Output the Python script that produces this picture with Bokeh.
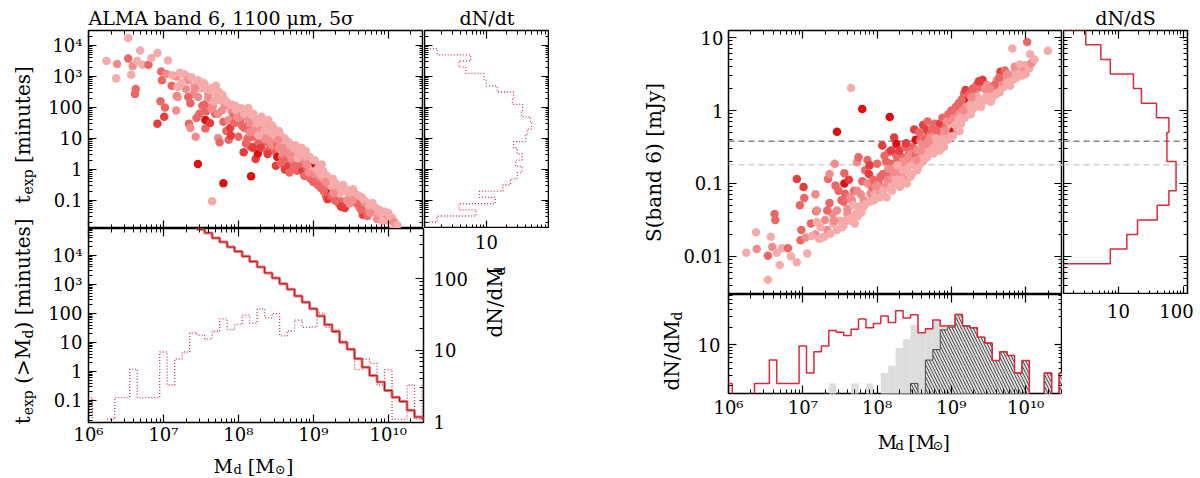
import math
from bokeh.plotting import figure
from bokeh.models import (ColumnDataSource, Range1d, LogAxis, LogScale, FixedTicker,
                          CustomJSTickFormatter, Span, Label, Spacer)
from bokeh.layouts import row, column
from bokeh.embed import file_html
from bokeh.resources import INLINE

# ---------------- data ----------------
# simulated galaxies: log dust mass [Msun], log S(band 6) [mJy], log t_exp [min], colour shade
log_md = [
    6.24, 6.37, 6.38, 6.53, 6.53, 6.57, 6.59, 6.62, 6.63, 6.65, 6.69, 6.72, 6.80, 6.84, 6.92, 6.92, 6.96, 6.97, 6.98,
    7.01, 7.02, 7.04, 7.06, 7.11, 7.17, 7.18, 7.17, 7.19, 7.22, 7.26, 7.29, 7.33, 7.34, 7.36, 7.36, 7.40, 7.41, 7.43,
    7.44, 7.46, 7.46, 7.48, 7.50, 7.37, 7.42, 7.33, 7.19, 7.12, 7.46, 7.30, 7.24,
    7.52, 7.53, 7.56, 7.56, 7.57, 7.60, 7.62, 7.65, 7.66, 7.69, 7.71, 7.73, 7.75, 7.80, 7.80, 7.82, 7.84, 7.87, 7.89,
    7.91, 7.93, 7.96, 7.55, 7.64, 7.74, 7.82, 7.64, 7.73, 7.55, 7.60, 7.98, 7.91, 7.87, 7.78, 7.68, 7.85, 7.95, 7.58,
    7.70, 7.79, 7.75, 7.62, 7.90, 7.97,
    8.00, 8.02, 8.05, 8.07, 8.08, 8.11, 8.13, 8.16, 8.17, 8.18, 8.20, 8.23, 8.23, 8.26, 8.27, 8.29, 8.31, 8.34, 8.36,
    8.38, 8.40, 8.43, 8.45, 8.47, 8.04, 8.00, 8.11, 8.18, 8.22, 8.31, 8.36, 8.40, 8.45, 8.47, 8.08, 8.14, 8.20, 8.26,
    8.28, 8.33, 8.35, 8.42, 8.44, 8.12, 8.25, 8.30, 8.38, 8.48, 8.15, 8.22, 8.05, 8.35, 8.41, 8.27, 8.45, 8.50, 8.10,
    8.19, 8.39,
    8.50, 8.52, 8.52, 8.54, 8.55, 8.58, 8.58, 8.63, 8.63, 8.67, 8.67, 8.72, 8.72, 8.76, 8.78, 8.78, 8.81, 8.83, 8.85,
    8.90, 8.92, 8.90, 8.96, 8.99, 8.95, 8.54, 8.56, 8.60, 8.62, 8.65, 8.68, 8.70, 8.74, 8.77, 8.80, 8.82, 8.85, 8.88,
    8.87, 8.93, 8.97, 8.60, 8.65, 8.70, 8.75, 8.80, 8.57, 8.62, 8.68, 8.74, 8.88, 8.94, 8.98, 8.53, 8.59, 8.66, 8.71,
    8.79, 8.84, 8.91,
    9.03, 9.03, 9.08, 9.12, 9.17, 9.21, 9.21, 9.26, 9.28, 9.32, 9.35, 9.39, 9.39, 9.43, 9.46, 9.50, 9.02, 9.05, 9.08,
    9.10, 9.13, 9.15, 9.18, 9.20, 9.23, 9.25, 9.30, 9.33, 9.36, 9.40, 9.43, 9.47, 9.06, 9.10, 9.14, 9.19, 9.24, 9.29,
    9.34, 9.37, 9.42, 9.45, 9.48, 9.11, 9.16, 9.27, 9.00,
    9.53, 9.57, 9.61, 9.66, 9.70, 9.73, 9.79, 9.79, 9.86, 9.93, 9.95, 9.97, 9.82, 9.55, 9.60, 9.63, 9.68, 9.75, 9.83,
    9.88, 9.58, 9.64, 9.52, 9.72, 9.85, 9.90, 9.65, 9.76, 9.99, 9.92,
    10.02, 10.06, 10.02, 10.30, 10.05, 10.08, 10.00, 10.12,
]
log_s = [
    -1.95, -1.67, -1.90, -2.32, -1.99, -1.73, -1.87, -1.42, -1.50, -1.95, -2.12, -1.89, -1.89, -2.00, -2.08, -0.94,
    -1.30, -1.78, -1.64,
    -1.05, -1.20, -1.74, -1.96, -1.55, -1.15, -1.38, -1.70, -1.53, -1.76, -1.74, -1.73, -1.64, -0.94, -0.87, -1.27,
    -1.42, -1.55, -0.73, -1.03, -0.29, -1.37, -1.10, -1.51, -1.69, -1.51, -1.37, -1.37, -1.72, -1.64, -1.50, -1.60,
    -1.23, -1.60, -0.86, -1.00, -1.14, -1.42, -1.48, 0.31, -1.23, -1.10, -1.42, -0.71, -1.32, 0.02, -0.97, -1.23,
    -0.82, -0.68, -0.87, -1.14, -1.05, -1.23, -1.58, -1.51, -1.45, -1.32, -1.19, -1.10, -1.25, -1.35, -1.05, -1.25,
    -1.00, -1.15, -1.30, -1.28, -0.95, -1.50, -1.55, -1.40, -0.64, -0.95, -0.75, -1.15,
    -0.73, -0.98, -1.12, -0.48, -0.87, -1.05, -1.19, -0.57, -0.09, -0.73, -0.87, -1.00, -0.37, -0.46, -0.68, -0.81,
    -1.05, -0.64, -0.91, -0.78, -1.00, -0.57, -0.73, -0.87, -1.19, -1.03, -0.87, -1.07, -0.96, -0.87, -0.66, -0.80,
    -0.91, -0.64, -1.10, -0.95, -1.10, -0.95, -1.00, -0.95, -0.82, -0.85, -0.70, -0.70, -0.60, -0.55, -0.50, -0.50,
    -0.80, -0.80, -0.90, -0.70, -0.66, -0.75, -0.60, -0.75, -0.62, -0.55, -0.45,
    -0.26, -0.40, -0.60, -0.55, -0.78, -0.41, -0.73, -0.52, -0.59, -0.27, -0.64, -0.32, -0.50, -0.59, -0.18, -0.46,
    -0.41, -0.30, -0.18, -0.37, -0.23, -0.50, -0.05, -0.18, -0.40, -0.82, -0.68, -0.65, -0.70, -0.55, -0.50, -0.58,
    -0.45, -0.52, -0.50, -0.45, -0.40, -0.42, -0.30, -0.35, -0.30, -0.45, -0.38, -0.42, -0.35, -0.28, -0.30, -0.20,
    -0.15, -0.25, -0.10, -0.15, -0.25, -0.68, -0.55, -0.46, -0.38, -0.38, -0.55, -0.28,
    -0.09, -0.28, -0.05, 0.05, 0.23, 0.14, 0.05, -0.05, 0.11, 0.25, 0.18, 0.32, 0.14, 0.37, 0.14, 0.23, -0.35, -0.20,
    -0.25, -0.12, -0.18, -0.05, -0.10, -0.02, 0.00, 0.08, 0.03, 0.10, 0.08, 0.05, 0.15, 0.20, 0.05, 0.10, 0.15, 0.28,
    0.22, 0.30, 0.35, 0.40, 0.42, 0.30, 0.35, -0.28, 0.00, 0.18, 0.00,
    0.12, 0.27, 0.41, 0.53, 0.32, 0.46, 0.48, 0.34, 0.53, 0.55, 0.48, 0.53, 0.85, 0.18, 0.22, 0.30, 0.40, 0.38, 0.42,
    0.45, 0.35, 0.45, 0.30, 0.55, 0.60, 0.50, 0.25, 0.50, 0.62, 0.63,
    0.94, 0.77, 0.62, 0.82, 0.58, 0.65, 0.50, 0.70,
]
log_t = [
    3.50, 2.94, 3.40, 4.24, 3.58, 3.06, 3.34, 2.44, 2.60, 3.50, 3.84, 3.38, 3.38, 3.60, 3.76, 1.48, 2.20, 3.16, 2.88,
    1.70, 2.00, 3.08, 3.52, 2.70, 1.90, 2.36, 3.00, 2.66, 3.12, 3.08, 3.06, 2.88, 1.48, 1.34, 2.14, 2.44, 2.70, 1.06,
    1.66, 0.18, 2.34, 1.80, 2.62, 2.98, 2.62, 2.34, 2.34, 3.04, 2.88, 2.60, 2.80,
    2.06, 2.80, 1.32, 1.60, 1.88, 2.44, 2.56, -1.02, 2.06, 1.80, 2.44, 1.02, 2.24, -0.44, 1.54, 2.06, 1.24, 0.96,
    1.34, 1.88, 1.70, 2.06, 2.76, 2.62, 2.50, 2.24, 1.98, 1.80, 2.10, 2.30, 1.70, 2.10, 1.60, 1.90, 2.20, 2.16, 1.50,
    2.60, 2.70, 2.40, 0.88, 1.50, 1.10, 1.90,
    1.06, 1.56, 1.84, 0.56, 1.34, 1.70, 1.98, 0.74, -0.22, 1.06, 1.34, 1.60, 0.34, 0.52, 0.96, 1.22, 1.70, 0.88, 1.42,
    1.16, 1.60, 0.74, 1.06, 1.34, 1.98, 1.66, 1.34, 1.74, 1.52, 1.34, 0.92, 1.20, 1.42, 0.88, 1.80, 1.50, 1.80, 1.50,
    1.60, 1.50, 1.24, 1.30, 1.00, 1.00, 0.80, 0.70, 0.60, 0.60, 1.20, 1.20, 1.40, 1.00, 0.92, 1.10, 0.80, 1.10, 0.84,
    0.70, 0.50,
    0.12, 0.40, 0.80, 0.70, 1.16, 0.42, 1.06, 0.64, 0.78, 0.14, 0.88, 0.24, 0.60, 0.78, -0.04, 0.52, 0.42, 0.20,
    -0.04, 0.34, 0.06, 0.60, -0.30, -0.04, 0.40, 1.24, 0.96, 0.90, 1.00, 0.70, 0.60, 0.76, 0.50, 0.64, 0.60, 0.50,
    0.40, 0.44, 0.20, 0.30, 0.20, 0.50, 0.36, 0.44, 0.30, 0.16, 0.20, 0.00, -0.10, 0.10, -0.20, -0.10, 0.10, 0.96,
    0.70, 0.52, 0.36, 0.36, 0.70, 0.16,
    -0.22, 0.16, -0.30, -0.50, -0.86, -0.68, -0.50, -0.30, -0.62, -0.90, -0.76, -1.04, -0.68, -1.14, -0.68, -0.86,
    0.30, 0.00, 0.10, -0.16, -0.04, -0.30, -0.20, -0.36, -0.40, -0.56, -0.46, -0.60, -0.56, -0.50, -0.70, -0.80,
    -0.50, -0.60, -0.70, -0.96, -0.84, -1.00, -1.10, -1.20, -1.24, -1.00, -1.10, 0.16, -0.40, -0.76, -0.40,
    -0.64, -0.94, -1.22, -1.46, -1.04, -1.32, -1.36, -1.08, -1.46, -1.50, -1.36, -1.46, -2.10, -0.76, -0.84, -1.00,
    -1.20, -1.16, -1.24, -1.30, -1.10, -1.30, -1.00, -1.50, -1.60, -1.40, -0.90, -1.40, -1.64, -1.66,
    -2.28, -1.94, -1.64, -2.04, -1.56, -1.70, -1.40, -1.80,
]
shade = [
    0, 0, 1, 0, 2, 0, 1, 2, 2, 0, 0, 0, 2, 0, 0, 3, 2, 2, 2,
    3, 2, 1, 0, 2, 1, 2, 1, 0, 0, 0, 0, 1, 2, 1, 2, 1, 0, 1, 2, 4, 1, 2, 0, 0, 1, 2, 1, 0, 0, 1, 0,
    2, 0, 2, 4, 2, 1, 0, 0, 1, 2, 0, 1, 0, 4, 2, 1, 2, 2, 3, 1, 2, 0, 0, 0, 0, 0, 1, 1, 2, 1, 1, 0, 1, 1, 0, 0, 2,
    0, 0, 0, 2, 3, 3, 0,
    2, 2, 1, 3, 2, 1, 0, 2, 4, 2, 1, 1, 3, 4, 2, 1, 0, 2, 1, 1, 0, 2, 1, 0, 0, 1, 2, 0, 0, 1, 2, 0, 0, 1, 0, 1, 0,
    0, 0, 0, 0, 0, 0, 2, 2, 3, 2, 2, 1, 1, 2, 1, 1, 0, 1, 0, 2, 3, 3,
    3, 4, 2, 1, 0, 2, 0, 4, 1, 3, 0, 2, 1, 0, 2, 1, 1, 2, 3, 1, 2, 0, 2, 1, 0, 0, 0, 0, 0, 0, 0, 0, 0, 0, 0, 0, 0,
    0, 1, 0, 0, 1, 2, 1, 1, 2, 2, 3, 2, 2, 2, 1, 0, 1, 1, 1, 1, 0, 0, 1,
    1, 4, 1, 1, 2, 4, 1, 0, 0, 1, 0, 2, 0, 3, 0, 1, 0, 0, 0, 0, 0, 0, 0, 0, 0, 0, 0, 0, 0, 0, 0, 0, 2, 2, 2, 3, 2,
    2, 2, 3, 3, 1, 1, 0, 1, 1, 2,
    0, 0, 1, 3, 0, 1, 0, 0, 0, 0, 0, 1, 0, 0, 0, 0, 1, 0, 0, 0, 2, 2, 1, 2, 1, 0, 0, 1, 1, 0,
    2, 0, 0, 0, 0, 1, 0, 0,
]

# dN/dMd in 0.1 dex bins starting at log Md = 5.95 (whole sample / light grey / dark hatched)
md_bin_lo = 5.95
dn_dmd = [2.2, 0, 0, 1.1, 2.2, 2.2, 5.5, 2.2, 2.2, 2.2, 9.5, 3.3, 7.6, 9.5, 17.5, 16.3, 14.4, 18.5, 27.5, 19.5,
          23, 31, 24, 38, 28.5, 32.5, 16, 18.7, 26.5, 21, 21.2, 33, 21, 19.5, 13.5, 10.7, 5.4, 7.6, 6.6, 3.3,
          5.4, 1.1, 1.1, 3.3, 1.1, 3.3]
dn_light = [0, 0, 0, 0, 0, 0, 0, 0, 0, 0, 0, 0, 0, 0, 2.2, 0, 0, 2.2, 0, 2.2,
            0, 3.3, 4.4, 8.8, 12.5, 22, 16, 18.7, 26.5, 21, 21.2, 33, 21, 19.5, 13.5, 10.7, 5.4, 7.6, 6.6, 3.3,
            5.4, 1.1, 1.1, 3.3, 1.1, 3.3]
dn_dark = [0, 0, 0, 0, 0, 0, 0, 0, 0, 0, 0, 0, 0, 0, 0, 0, 0, 0, 0, 0,
           0, 0, 0, 0, 0, 2.2, 0, 5.5, 8.3, 18, 20, 33, 21, 19.5, 13.5, 10.7, 5.4, 7.6, 6.6, 3.3,
           5.4, 1.1, 1.1, 3.3, 1.1, 3.3]

# cumulative exposure time t_exp(>Md) [min], 0.1 dex bins starting at log Md = 7.35
cum_bin_lo = 7.35
t_cum = [112000, 79000, 60000, 40000, 29000, 19500, 13800, 9300, 6200, 4000, 2500, 1660, 1050, 680, 400, 245,
         145, 81, 41, 24, 10.2, 5.8, 2.75, 1.4, 0.72, 0.43, 0.22, 0.13, 0.093, 0.046, 0.027, 0.023]

# dN/dt in 0.2 dex bins of log t from -1.7 to 3.9
t_bin_lo = -1.7
dn_dt = [1.74, 6.9, 3.75, 13.7, 7.8, 17.8, 23.4, 29.6, 35, 28, 35.4, 29.6, 26, 40, 42, 49, 47.5, 34.5, 36, 25,
         26, 14.6, 9.9, 9.1, 4.8, 3.75, 5.7, 1.74]

# dN/dS in 0.2 dex bins of log S from -2.5 to 1.1
s_bin_lo = -2.5
dn_ds = [1.05, 1.05, 7.4, 13.3, 19.4, 39, 59, 76, 76, 55, 55, 59, 38, 22.3, 16.8, 7.4, 5.3, 3.1]

# flux limits drawn as dashed lines [mJy]
s_lim_dark = 0.38
s_lim_light = 0.18

# ---------------- styling ----------------
FONT = "DejaVu Serif"
PALETTE = ["#f6abab", "#f28c8c", "#ec6666", "#e53d3d", "#dc1010"]
RED = "#d92b3c"
SUP = {6: "10⁶", 7: "10⁷", 8: "10⁸", 9: "10⁹", 10: "10¹⁰"}
T_LAB = {-1: "0.1", 0: "1", 1: "10", 2: "100", 3: "10³", 4: "10⁴"}

md_r_left = (1e6, 2.95e10)
md_r_right = (1e6, 3.13e10)
t_r = (0.0125, 30500)
tc_r = (0.0174, 85000)
dnm_r = (0.99, 500)
s_r = (0.0030, 12.5)
dnd_r = (1.48, 72)

CHAR_W = {"t": 0.40, "e": 0.59, "x": 0.56, "p": 0.64, " ": 0.32, "[": 0.39, "]": 0.39, "m": 0.95,
          "i": 0.32, "n": 0.64, "u": 0.64, "s": 0.51, "(": 0.39, ")": 0.39, ">": 0.84, "M": 0.99,
          "d": 0.64, "N": 0.84, "/": 0.34, "⊙": 0.84}


def panel(w, h, xr, yr, bl, br, bt, bb, title=None):
    p = figure(width=w, height=h, x_axis_type="log", y_axis_type="log",
               x_range=Range1d(*xr), y_range=Range1d(*yr), title=title,
               toolbar_location=None, output_backend="svg",
               min_border_left=bl, min_border_right=br, min_border_top=bt, min_border_bottom=bb)
    p.grid.visible = False
    p.outline_line_color = "black"
    p.outline_line_width = 1.5
    p.add_layout(LogAxis(), "above")
    if title:
        p.title.text_font = FONT
        p.title.text_font_size = "19px"
        p.title.text_font_style = "normal"
        p.title.text_color = "black"
        p.title.standoff = 3
    return p


def strip(w, h):
    # blank canvas used to hold axis captions with subscripts
    s = figure(width=w, height=h, x_range=Range1d(0, w), y_range=Range1d(h, 0), title=None,
               x_axis_location=None, y_axis_location=None, toolbar_location=None,
               output_backend="svg", min_border=0)
    s.grid.visible = False
    s.outline_line_color = None
    return s


def ticks(ax, lo, hi, labels=None, standoff=8):
    ax.ticker = FixedTicker(ticks=[10.0 ** e for e in range(lo, hi + 1)],
                            minor_ticks=[m * 10.0 ** e for e in range(lo - 1, hi + 1) for m in range(2, 10)])
    ax.major_tick_in = 8
    ax.major_tick_out = 0
    ax.minor_tick_in = 4
    ax.minor_tick_out = 0
    ax.major_tick_line_width = 1.2
    ax.axis_line_color = None
    if labels:
        js = ",".join(f'"{k}":"{v}"' for k, v in labels.items())
        ax.formatter = CustomJSTickFormatter(
            code="const m={" + js + "}; const k=String(Math.round(Math.log10(tick))); return (k in m) ? m[k] : '';")
        ax.major_label_text_font = FONT
        ax.major_label_text_font_size = "18px"
        ax.major_label_text_color = "black"
        ax.major_label_standoff = standoff
    else:
        ax.formatter = CustomJSTickFormatter(code="return '';")
        ax.major_label_text_font_size = "0px"
        ax.major_label_standoff = 0


def tlen(s, size):
    return sum(CHAR_W.get(c, 0.62) for c in s) * size


def put_text(p, pieces, cx, cy, vertical=False, size=20, sub=14, drop=5):
    # pieces of (text, is_subscript); vertical text reads upward, cx is then its baseline
    total = sum(tlen(t, sub if small else size) for t, small in pieces)
    pos = cy + total / 2 if vertical else cx - total / 2
    for t, small in pieces:
        fs = sub if small else size
        if small:
            pos = pos - 1 if vertical else pos + 1
        if t.startswith(" "):
            adv = tlen(" ", fs)
            pos = pos - adv if vertical else pos + adv
            t = t[1:]
        x, y = (cx + (drop if small else 0), pos) if vertical else (pos, cy + (drop if small else 0))
        p.add_layout(Label(x=x, y=y, text=t, angle=math.pi / 2 if vertical else 0, text_font=FONT,
                           text_font_size=f"{fs}px", text_align="left", text_baseline="alphabetic",
                           text_color="black"))
        pos = pos - tlen(t, fs) if vertical else pos + tlen(t, fs)


def put_tick(p, x, y, txt):
    p.add_layout(Label(x=x, y=y, text=txt, text_font=FONT, text_font_size="18px",
                       text_align="center", text_baseline="middle", text_color="black"))


def hstep(lo, vals, floor):
    edges = [10 ** (lo + 0.1 * k) for k in range(len(vals) + 1)]
    ys = [v if v > 0 else floor for v in vals]
    return edges, ys + [ys[-1]]


def vstep(lo, width, vals, floor):
    edges = [10 ** (lo + width * k) for k in range(len(vals) + 1)]
    xs, ys = [floor], [edges[0]]
    for i, v in enumerate(vals):
        v = v if v > 0 else floor
        xs += [v, v]
        ys += [edges[i], edges[i + 1]]
    xs.append(floor)
    ys.append(edges[-1])
    return xs, ys


colors = [PALETTE[k] for k in shade]
src_t = ColumnDataSource(dict(x=[10 ** v for v in log_md], y=[10 ** v for v in log_t], c=colors))
src_s = ColumnDataSource(dict(x=[10 ** v for v in log_md], y=[10 ** v for v in log_s], c=colors))
SPANS = ((s_lim_dark, "#858585"), (s_lim_light, "#cfcfcf"))

# ---------------- top left: t_exp vs Md ----------------
pa = panel(381, 228, md_r_left, t_r, 46, 0, 30, 0, title="ALMA band 6, 1100 μm, 5σ")
pa.title.align = "left"
pa.add_layout(LogAxis(), "right")
ticks(pa.left[0], -1, 4, T_LAB, standoff=6)
ticks(pa.right[0], -1, 4)
ticks(pa.below[0], 6, 10)
ticks(pa.above[0], 6, 10)
pa.scatter("x", "y", source=src_t, size=8.5, fill_color="c", line_color=None)

# ---------------- top middle: dN/dt ----------------
pb = panel(126, 228, (1.11, 93), t_r, 1, 0, 30, 0, title="dN/dt")
pb.title.align = "center"
pb.add_layout(LogAxis(), "right")
ticks(pb.left[0], -1, 4)
ticks(pb.right[0], -1, 4)
ticks(pb.below[0], 1, 1)
ticks(pb.above[0], 1, 1)
bx, by = vstep(t_bin_lo, 0.2, dn_dt, 0.5)
pb.line(bx, by, line_color="#d0354c", line_width=1.3, line_dash="1 2")

# ---------------- bottom left: cumulative t_exp and dN/dMd ----------------
pc = panel(431, 219, md_r_left, tc_r, 46, 50, 0, 25)
pc.extra_y_ranges = {"dn": Range1d(*dnm_r)}
pc.extra_y_scales = {"dn": LogScale()}
pc.add_layout(LogAxis(y_range_name="dn"), "right")
ticks(pc.left[0], -1, 4, T_LAB, standoff=6)
ticks(pc.right[0], 0, 2, {0: "1", 1: "10", 2: "100"}, standoff=10)
ticks(pc.below[0], 6, 10, SUP, standoff=1)
ticks(pc.above[0], 6, 10)
hx, hy = hstep(md_bin_lo, dn_dmd, 0.5)
pc.step(hx, hy, mode="after", y_range_name="dn", line_color="#d0354c", line_width=1.3, line_dash="1 2")
cx_, cy_ = hstep(cum_bin_lo, t_cum, 1e-3)
pc.step(cx_, cy_, mode="after", line_color="#f27c7c", line_width=3)
pc.step(cx_, cy_, mode="after", line_color="#b3121f", line_width=1)

# caption strips of the left block
sl = strip(42, 477)
put_text(sl, [("t", False), ("exp", True), (" [minutes]", False)], 22, 135, vertical=True)
put_text(sl, [("t", False), ("exp", True), (" (>M", False), ("d", True), (") [minutes]", False)],
         22, 322, vertical=True)
scr = strip(76, 219)
put_text(scr, [("dN/dM", False), ("d", True)], 21, 84, vertical=True)
put_tick(scr, 13, 15, "10")
scb = strip(507, 30)
put_text(scb, [("M", False), ("d", True), (" [M", False), ("⊙", True), ("]", False)], 210, 18,
         size=19, sub=13, drop=4)

# ---------------- top right: S(band 6) vs Md ----------------
pm = panel(424, 294, md_r_right, s_r, 90, 0, 30, 0)
pm.add_layout(LogAxis(), "right")
ticks(pm.left[0], -2, 1, {-2: "0.01", -1: "0.1", 0: "1", 1: "10"}, standoff=5)
ticks(pm.right[0], -2, 1)
ticks(pm.below[0], 6, 10)
ticks(pm.above[0], 6, 10)
pm.left[0].axis_label = "S(band 6) [mJy]"
pm.left[0].axis_label_text_font = FONT
pm.left[0].axis_label_text_font_size = "20px"
pm.left[0].axis_label_text_font_style = "normal"
pm.left[0].axis_label_text_color = "black"
pm.left[0].axis_label_standoff = 14
for loc, col in SPANS:
    pm.add_layout(Span(location=loc, dimension="width", line_color=col, line_width=1.5,
                       line_dash="6 4", level="underlay"))
pm.scatter("x", "y", source=src_s, size=8.5, fill_color="c", line_color=None)

# ---------------- right: dN/dS ----------------
pr = panel(128, 294, (1.41, 114), s_r, 1, 3, 30, 0, title="dN/dS")
pr.title.align = "center"
pr.add_layout(LogAxis(), "right")
ticks(pr.left[0], -2, 1)
ticks(pr.right[0], -2, 1)
ticks(pr.below[0], 1, 2)
ticks(pr.above[0], 1, 2)
for loc, col in SPANS:
    pr.add_layout(Span(location=loc, dimension="width", line_color=col, line_width=1.5,
                       line_dash="6 4", level="underlay"))
rx, ry = vstep(s_bin_lo, 0.2, dn_ds, 0.5)
pr.line(rx, ry, line_color=RED, line_width=1.5)

# ---------------- bottom right: dN/dMd ----------------
pd_ = panel(372, 126, md_r_right, dnd_r, 38, 0, 0, 27)
pd_.add_layout(LogAxis(), "right")
ticks(pd_.left[0], 1, 1, {1: "10"}, standoff=8)
ticks(pd_.right[0], 1, 1)
ticks(pd_.below[0], 6, 10, SUP, standoff=3)
ticks(pd_.above[0], 6, 10)
lo_e = [10 ** (md_bin_lo + 0.1 * k) for k in range(len(dn_dmd))]
hi_e = [10 ** (md_bin_lo + 0.1 * (k + 1)) for k in range(len(dn_dmd))]
light = [(a, b, v) for a, b, v in zip(lo_e, hi_e, dn_light) if v > 0]
pd_.quad(left=[q[0] for q in light], right=[q[1] for q in light], bottom=0.5, top=[q[2] for q in light],
         fill_color="#e3e3e3", line_color=None, hatch_pattern="\\", hatch_color="#cdcdcd",
         hatch_scale=4, hatch_weight=0.6)
dark = [(a, b, v) for a, b, v in zip(lo_e, hi_e, dn_dark) if v > 0]
pd_.quad(left=[q[0] for q in dark], right=[q[1] for q in dark], bottom=0.5, top=[q[2] for q in dark],
         fill_alpha=0, line_color=None, hatch_pattern="\\", hatch_color="#3a3a3a",
         hatch_scale=6, hatch_weight=0.9)
dx, dy = hstep(md_bin_lo, dn_dark, 0.5)
pd_.step(dx, dy, mode="after", line_color="#4a4a4a", line_width=1)
hx2, hy2 = hstep(md_bin_lo, dn_dmd, 0.5)
pd_.step(hx2, hy2, mode="after", line_color=RED, line_width=1.5)

# caption strips of the right block
sd = strip(52, 183)
put_text(sd, [("dN/dM", False), ("d", True)], 33, 57, vertical=True)
sdb = strip(372, 57)
put_text(sdb, [("M", False), ("d", True), (" [M", False), ("⊙", True), ("]", False)], 205, 21,
         size=19, sub=13, drop=4)
sdr = strip(134, 183)
put_tick(sdr, 56, 16, "10")
put_tick(sdr, 114, 16, "100")

left = row(sl, column(row(pa, pb), row(pc, scr), scb))
right = column(row(pm, pr), row(sd, column(pd_, sdb), sdr))
page = row(left, Spacer(width=89, height=1), right)

open("out.html", "w", encoding="utf-8").write(file_html(page, INLINE))
